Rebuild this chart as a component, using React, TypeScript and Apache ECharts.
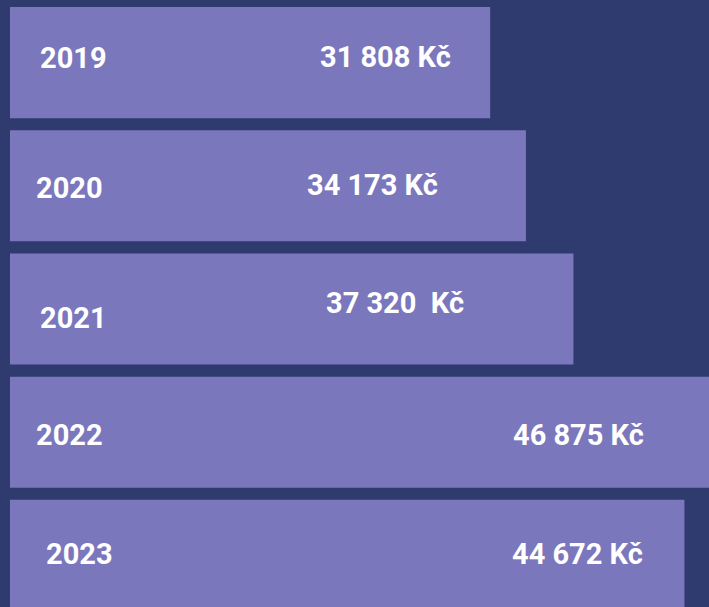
import React, { useEffect, useRef } from "react";
import * as echarts from "echarts";

const years = ["2019", "2020", "2021", "2022", "2023"];
const salaries = [31808, 34173, 37320, 46875, 44672];
const valueLabels = ["31 808 Kč", "34 173 Kč", "37 320  Kč", "46 875 Kč", "44 672 Kč"];

// label placement inside each bar (pixels from the bar's top-left corner)
const yearLabelPos: [number, number][] = [
  [30, 51],
  [26, 58],
  [30, 65],
  [26, 58],
  [36, 54],
];
const valueLabelPos: [number, number][] = [
  [310, 50],
  [297, 55],
  [316, 50],
  [503, 58],
  [502, 54],
];

const BG = "#2f3a6e";
const BAR = "#7b77bd";
const FONT = "Roboto, 'Noto Sans', sans-serif";

export default function App() {
  const ref = useRef<HTMLDivElement>(null);

  useEffect(() => {
    document.body.style.margin = "0";
    document.body.style.overflow = "hidden";
    document.body.style.background = BG;
    if (!ref.current) return;
    const chart = echarts.init(ref.current, undefined, { renderer: "svg" });
    const labelBase = {
      show: true,
      color: "#ffffff",
      fontFamily: FONT,
      fontWeight: 700,
      fontSize: 29,
      align: "left",
      verticalAlign: "middle",
    };
    chart.setOption({
      animation: false,
      backgroundColor: BG,
      grid: { left: 10, right: 0, top: 1, bottom: 0, containLabel: false },
      xAxis: {
        type: "value",
        min: 0,
        max: 46300,
        show: false,
      },
      yAxis: {
        type: "category",
        data: years,
        inverse: true,
        show: false,
      },
      series: [
        {
          type: "bar",
          barCategoryGap: "9.8%",
          itemStyle: { color: BAR },
          data: salaries.map((v, i) => ({
            value: v,
            label: {
              ...labelBase,
              position: yearLabelPos[i],
              formatter: () => years[i],
            },
          })),
        },
        {
          type: "bar",
          barGap: "-100%",
          barCategoryGap: "9.8%",
          itemStyle: { color: "transparent" },
          silent: true,
          data: salaries.map((v, i) => ({
            value: v,
            label: {
              ...labelBase,
              position: valueLabelPos[i],
              formatter: () => valueLabels[i],
            },
          })),
        },
      ],
    });
    return () => chart.dispose();
  }, []);

  return (
    <div
      ref={ref}
      style={{
        position: "fixed",
        left: 0,
        top: 0,
        width: 709,
        height: 617,
        background: BG,
      }}
    />
  );
}
